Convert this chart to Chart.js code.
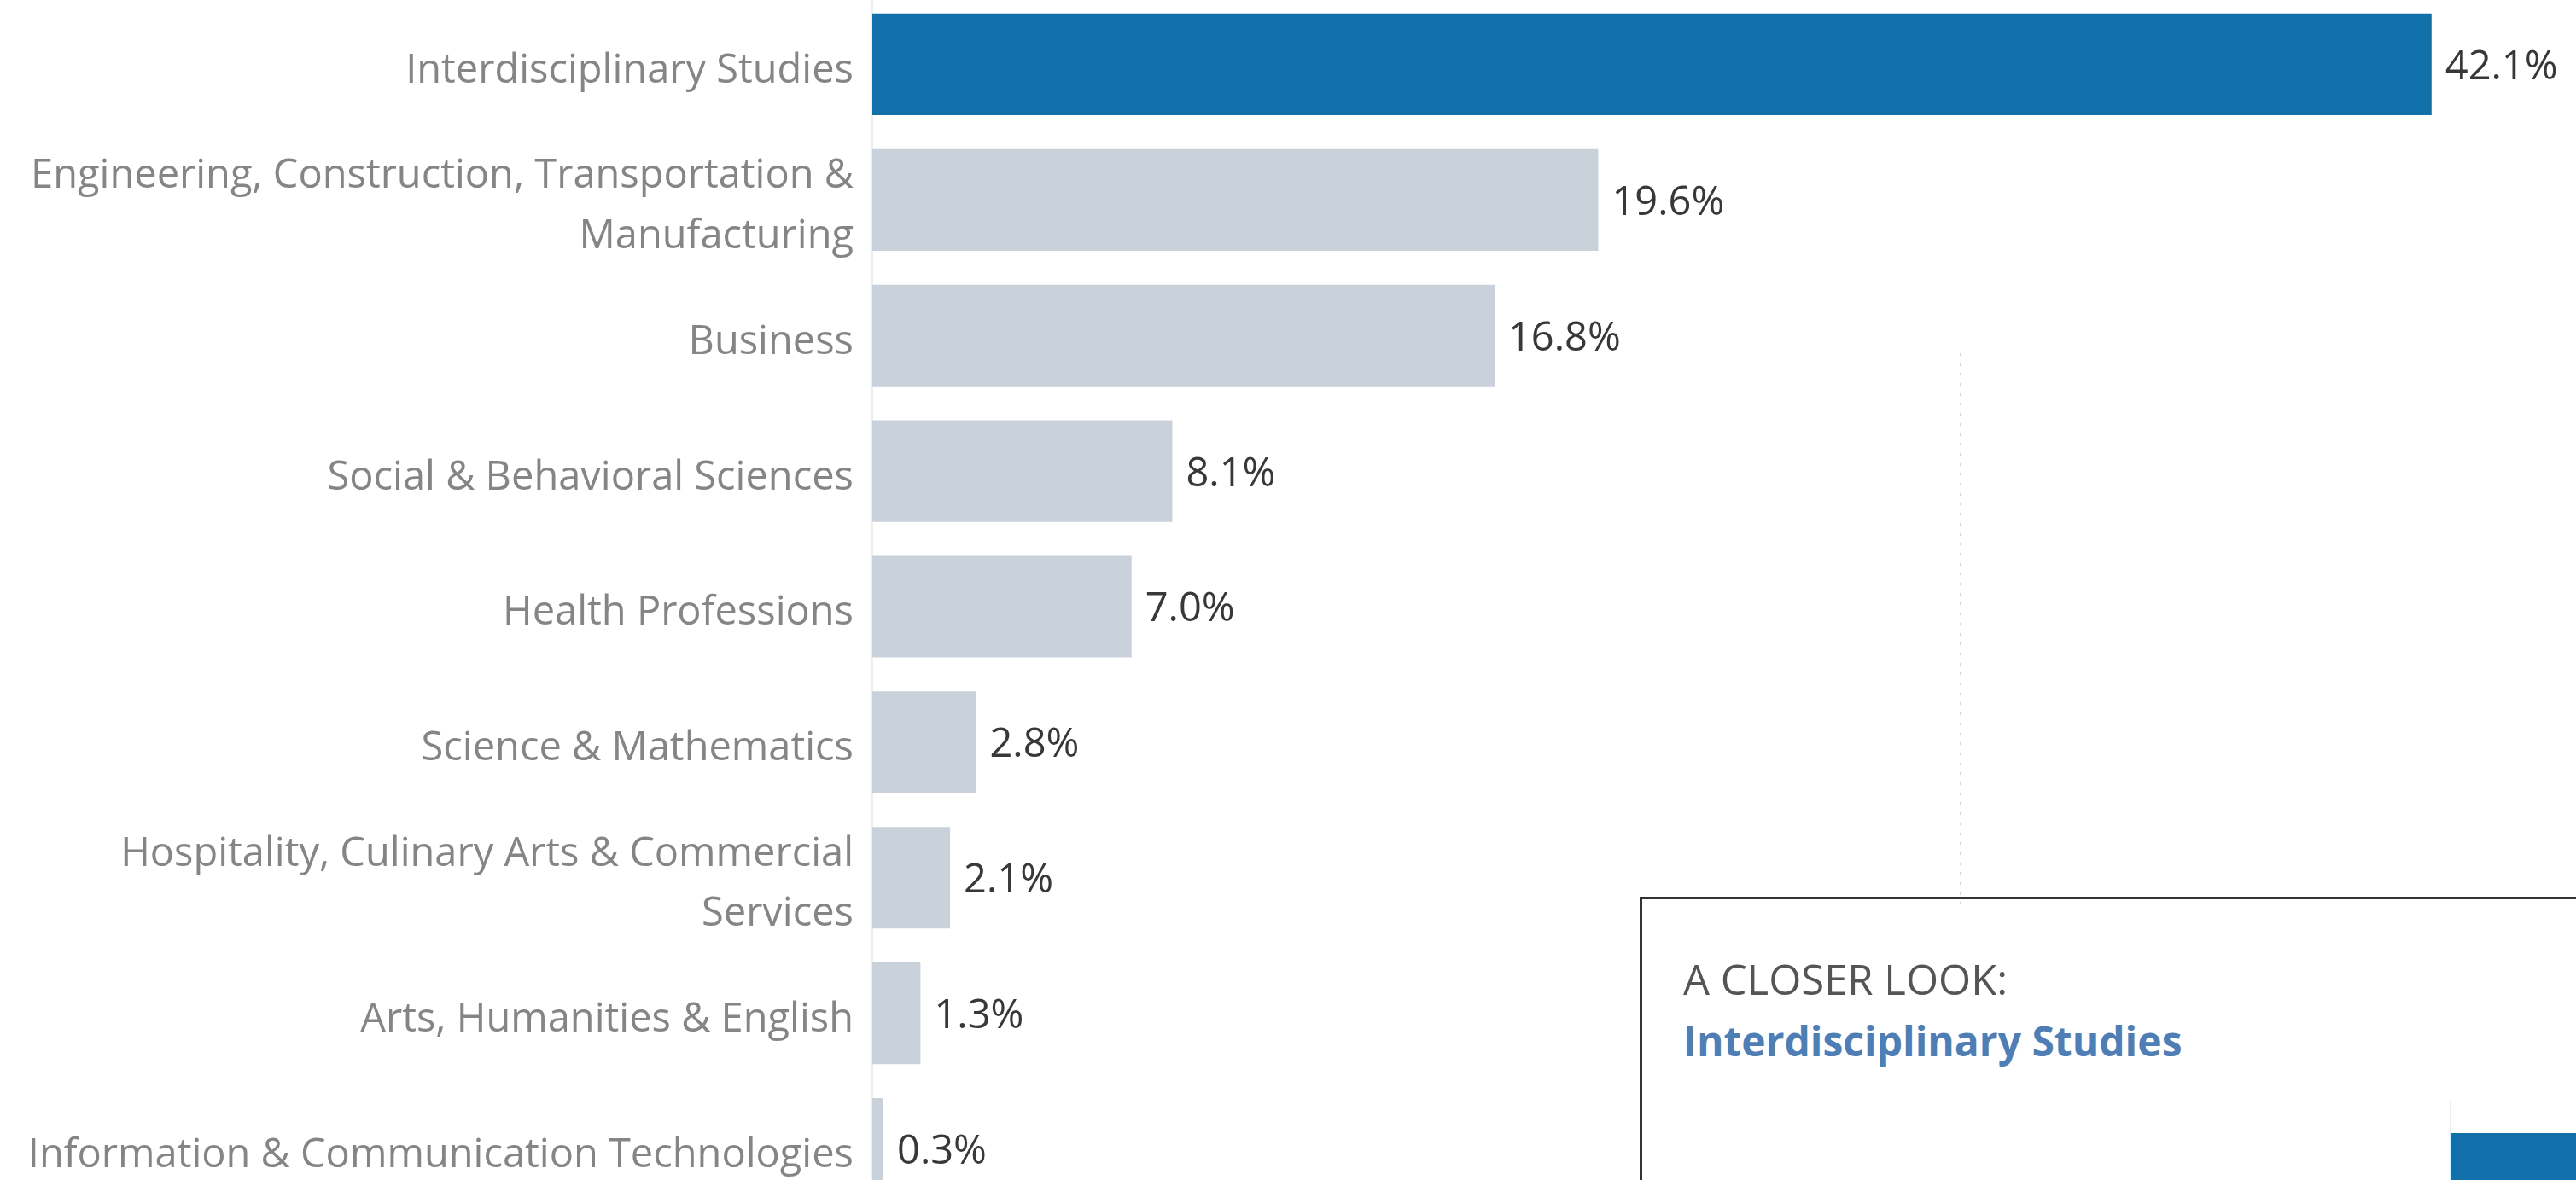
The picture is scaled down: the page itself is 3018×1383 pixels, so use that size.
<!DOCTYPE html>
<html>
<head>
<meta charset="utf-8">
<script src="https://cdn.jsdelivr.net/npm/chart.js@4.4.1/dist/chart.umd.min.js"></script>
<style>
  html, body { margin:0; padding:0; background:#ffffff; overflow:hidden; width:3018px; height:1383px; }
  #main { position:absolute; left:0; top:-4px; width:3018px; height:1430px; }
  #inset { position:absolute; left:1921px; top:1051px; width:1300px; height:600px; border:3px solid #333333; background:#ffffff; box-sizing:border-box; }
  #insetChartWrap { position:absolute; left:2868px; top:1290px; width:1900px; height:180px; }
  .t1 { position:absolute; left:1972px; top:1123px; font-family:'Open Sans', sans-serif; font-size:49px; line-height:49px; color:#555555; white-space:nowrap; }
  .t2 { position:absolute; left:1972px; top:1196px; font-family:'Open Sans', sans-serif; font-weight:700; font-size:48px; line-height:48px; color:#4e7eb3; white-space:nowrap; }
  #dots { position:absolute; left:2296px; top:414px; width:2px; height:654px;
          background: repeating-linear-gradient(to bottom, #d6d6d6 0px, #d6d6d6 3px, transparent 3px, transparent 11.7px); z-index:5; }
</style>
</head>
<body>
<div id="main"><canvas id="c"></canvas></div>
<div id="inset"></div>
<div class="t1">A CLOSER LOOK:</div>
<div class="t2">Interdisciplinary Studies</div>
<div id="insetChartWrap"><canvas id="c2"></canvas></div>
<div id="dots"></div>
<script>
const categories = [
  'Interdisciplinary Studies',
  ['Engineering, Construction, Transportation &', 'Manufacturing'],
  'Business',
  'Social & Behavioral Sciences',
  'Health Professions',
  'Science & Mathematics',
  ['Hospitality, Culinary Arts & Commercial', 'Services'],
  'Arts, Humanities & English',
  'Information & Communication Technologies'
];
const shares = [42.1, 19.6, 16.8, 8.1, 7.0, 2.8, 2.1, 1.3, 0.3];
const highlighted = 'Interdisciplinary Studies';
const insetCategories = ['Interdisciplinary Studies'];
const insetValues = [42.1];

const BLUE = '#1170aa';
const GREY = '#c9d1db';
const FONT = "'Open Sans', sans-serif";

const valueLabels = {
  id: 'valueLabels',
  afterDatasetsDraw(chart) {
    const ctx = chart.ctx;
    const meta = chart.getDatasetMeta(0);
    ctx.save();
    ctx.font = '400 47px ' + FONT;
    ctx.fillStyle = '#383838';
    ctx.textAlign = 'left';
    ctx.textBaseline = 'middle';
    meta.data.forEach((el, i) => {
      ctx.fillText(shares[i].toFixed(1) + '%', el.x + 16, el.y + 4);
    });
    ctx.restore();
  }
};

new Chart(document.getElementById('c'), {
  type: 'bar',
  data: {
    labels: categories,
    datasets: [{
      data: shares,
      backgroundColor: categories.map(c => (c === highlighted ? BLUE : GREY)),
      borderWidth: 0,
      barPercentage: 0.75,
      categoryPercentage: 1.0
    }]
  },
  options: {
    indexAxis: 'y',
    responsive: true,
    maintainAspectRatio: false,
    animation: false,
    layout: { padding: 0 },
    plugins: { legend: { display: false }, tooltip: { enabled: false } },
    scales: {
      x: { display: false, min: 0, max: 46 },
      y: {
        grid: { display: false, drawTicks: false },
        border: { display: true, color: '#eeeeee', width: 2 },
        ticks: {
          color: '#858585',
          padding: 22,
          labelOffset: 8,
          font: { family: FONT, size: 47, weight: '400', lineHeight: 1.5 }
        },
        afterFit(s) { s.width = 1022; s.paddingTop = 0; s.paddingBottom = 0; }
      }
    }
  },
  plugins: [valueLabels]
});

new Chart(document.getElementById('c2'), {
  type: 'bar',
  data: {
    labels: insetCategories,
    datasets: [{ data: insetValues, backgroundColor: BLUE, borderWidth: 0, barPercentage: 0.578, categoryPercentage: 1.0 }]
  },
  options: {
    indexAxis: 'y',
    responsive: true,
    maintainAspectRatio: false,
    animation: false,
    layout: { padding: 0 },
    plugins: { legend: { display: false }, tooltip: { enabled: false } },
    scales: {
      x: { display: false, min: 0, max: 46 },
      y: {
        grid: { display: false, drawTicks: false },
        border: { display: true, color: '#eeeeee', width: 2 },
        ticks: { display: false },
        afterFit(s) { s.width = 3; s.paddingTop = 0; s.paddingBottom = 0; }
      }
    }
  }
});
</script>
</body>
</html>
